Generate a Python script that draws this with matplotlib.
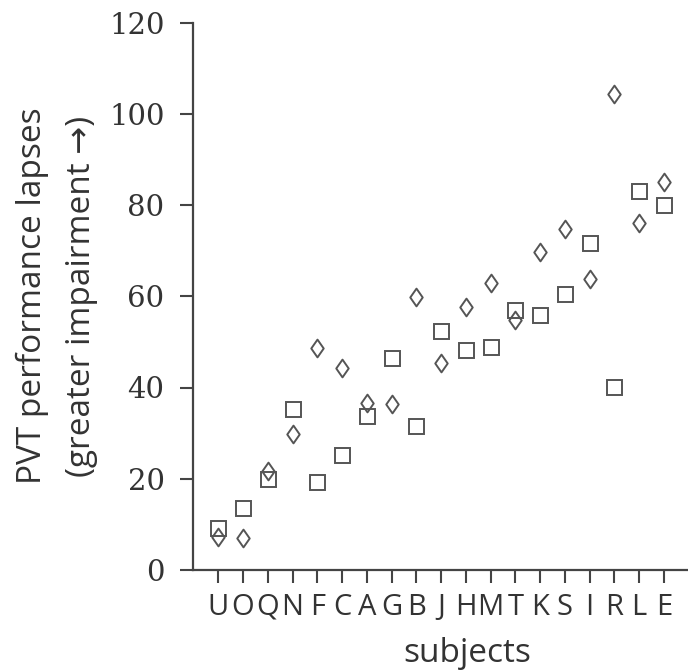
import matplotlib
matplotlib.use("Agg")
import matplotlib.pyplot as plt
from matplotlib.path import Path

subjects = ["U", "O", "Q", "N", "F", "C", "A", "G", "B", "J",
            "H", "M", "T", "K", "S", "I", "R", "L", "E"]
lapses_square = [9.3, 13.5, 19.9, 35.2, 19.2, 25.2, 33.7, 46.4, 31.5, 52.3,
                 48.3, 48.9, 57.0, 55.9, 60.5, 71.7, 40.1, 83.0, 80.1]
lapses_diamond = [7.2, 7.0, 21.7, 29.9, 48.6, 44.3, 36.6, 36.3, 59.9, 45.4,
                  57.7, 63.0, 54.8, 69.7, 74.8, 63.7, 104.3, 76.0, 85.0]
y_ticks = [0, 20, 40, 60, 80, 100, 120]

axis_color = "#444444"
text_color = "#333333"
marker_color = "#555555"
sans = ["Open Sans", "DejaVu Sans"]

fig = plt.figure(figsize=(6.88, 6.71), dpi=100)
ax = fig.add_axes([193 / 688, 101 / 671, 495 / 688, 547.5 / 671])

x = list(range(len(subjects)))

# Slightly wider-than-thin diamond outline
diamond = Path([(0, 1), (0.70, 0), (0, -1), (-0.70, 0), (0, 1)],
               [Path.MOVETO, Path.LINETO, Path.LINETO, Path.LINETO, Path.CLOSEPOLY])

ax.plot(x, lapses_square, linestyle="none", marker="s", markersize=10.8,
        markerfacecolor="none", markeredgecolor=marker_color, markeredgewidth=1.4)
ax.plot(x, lapses_diamond, linestyle="none", marker=diamond, markersize=12.8,
        markerfacecolor="none", markeredgecolor=marker_color, markeredgewidth=1.4)

ax.set_xlim(-1.02, 18.97)
ax.set_ylim(0, 120)

ax.set_xticks(x)
ax.set_xticklabels(subjects, fontfamily=sans, fontsize=21, color=text_color)
ax.set_yticks(y_ticks)
ax.set_yticklabels([str(v) for v in y_ticks], fontfamily="DejaVu Serif",
                   fontsize=21, color=text_color)

for side in ("top", "right"):
    ax.spines[side].set_visible(False)
for side in ("left", "bottom"):
    ax.spines[side].set_color(axis_color)
    ax.spines[side].set_linewidth(1.6)

ax.tick_params(axis="both", direction="out", length=9.5, width=1.5,
               color=axis_color)
ax.tick_params(axis="x", pad=7)
ax.tick_params(axis="y", pad=11)

fig.text(32 / 688, 1 - 296 / 671, "PVT performance lapses", rotation=90,
         ha="center", va="center", fontfamily=sans, fontsize=24, color=text_color)
fig.text(82 / 688, 1 - 296 / 671, "(greater impairment \u2192)", rotation=90,
         ha="center", va="center", fontfamily=sans, fontsize=24, color=text_color)
fig.text(467 / 688, 1 - 662 / 671, "subjects", ha="center", va="baseline",
         fontfamily=sans, fontsize=24, color=text_color)

fig.savefig("out.png", dpi=100)
